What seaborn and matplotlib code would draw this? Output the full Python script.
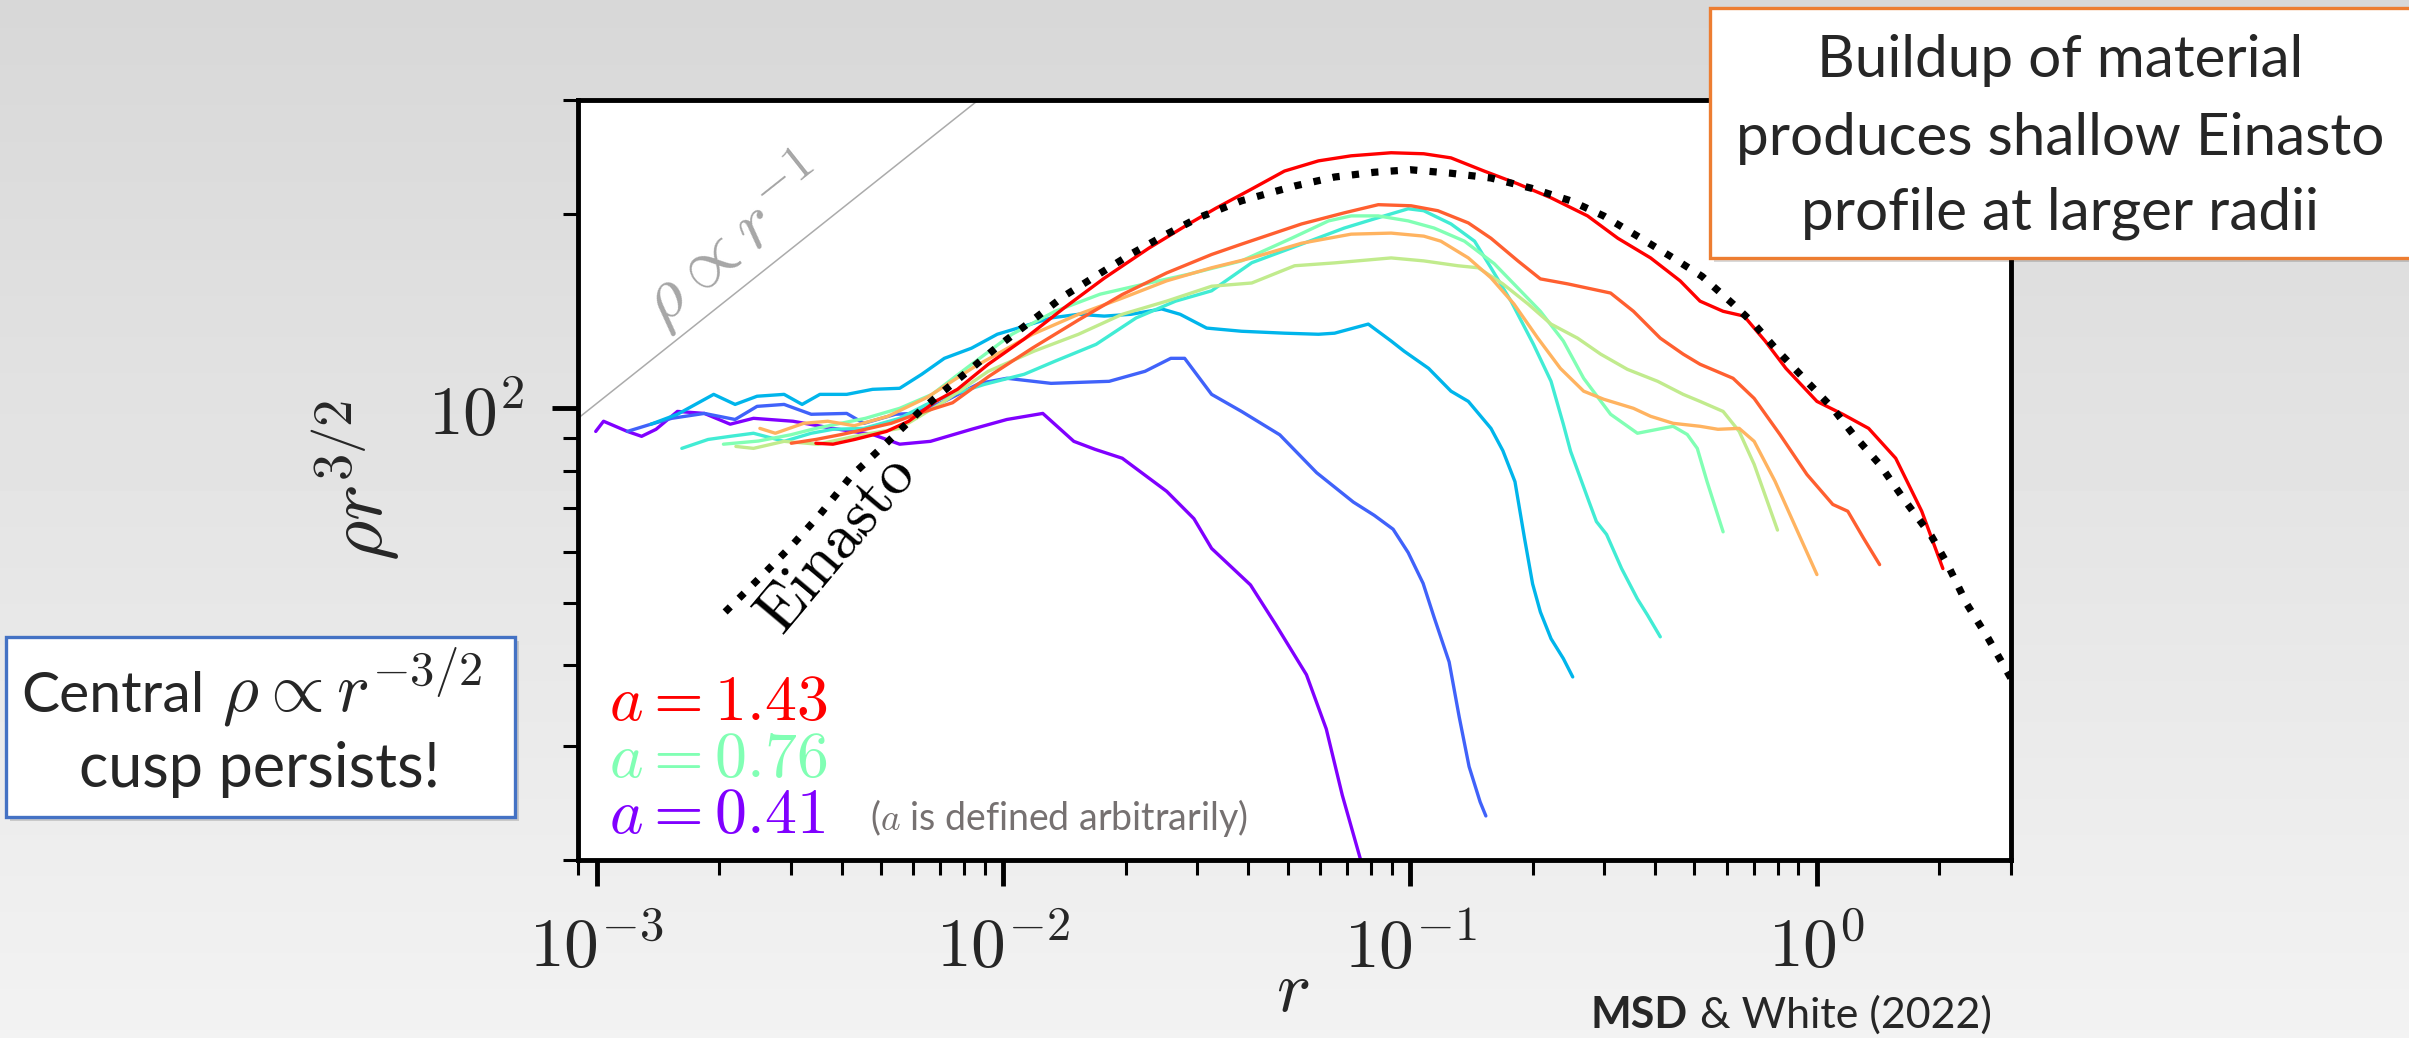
import numpy as np
import pandas as pd
import matplotlib
matplotlib.use("Agg")
import matplotlib.pyplot as plt
from matplotlib.patches import Rectangle
from matplotlib.ticker import NullFormatter
import seaborn as sns

# density profiles rho*r^{3/2}, from a=0.41 (purple) to a=1.43 (red)
r_purple = [0.000995, 0.00104, 0.00119, 0.00129, 0.0014, 0.00158, 0.00184, 0.00213, 0.00243, 0.00304,
            0.00381, 0.00477, 0.00556, 0.00662, 0.00835, 0.0102, 0.0125, 0.0149, 0.0168, 0.0196,
            0.0252, 0.0294, 0.0325, 0.0405, 0.0467, 0.0556, 0.0622, 0.0681, 0.0754]
v_purple = [92.1, 95.5, 92.1, 90.5, 92.8, 98.9, 98.2, 94.5, 96.5, 95.5,
            93.1, 91.1, 88.0, 88.9, 92.8, 96.1, 98.2, 88.9, 86.4, 83.7,
            74.4, 67.5, 60.7, 53.3, 46.3, 38.7, 31.9, 25.2, 20.1]

r_blue = [0.00119, 0.00136, 0.00153, 0.00184, 0.00219, 0.00248, 0.00289, 0.00337, 0.00412, 0.00454,
          0.00543, 0.00601, 0.00716, 0.00873, 0.0102, 0.0131, 0.0182, 0.0223, 0.0258, 0.0279,
          0.0325, 0.0385, 0.0478, 0.0589, 0.0725, 0.0816, 0.0908, 0.0989, 0.1076, 0.1145,
          0.1247, 0.132, 0.1396, 0.1486, 0.1535]
v_blue = [92.1, 94.5, 96.5, 98.2, 96.1, 100.7, 101.4, 97.9, 98.2, 94.8,
          97.9, 98.2, 102.5, 109.3, 111.3, 109.3, 110.1, 114.1, 119.5, 119.5,
          105.1, 98.9, 91.0, 79.5, 71.6, 68.3, 65.0, 59.8, 53.6, 47.5,
          40.5, 33.3, 27.9, 24.6, 23.4]

r_cyan = [0.00136, 0.00158, 0.00194, 0.00219, 0.00248, 0.00289, 0.0032, 0.00354, 0.00412, 0.00477,
          0.00556, 0.0063, 0.00716, 0.00835, 0.00966, 0.01125, 0.0131, 0.0153, 0.0177, 0.0206,
          0.0245, 0.0272, 0.0316, 0.0385, 0.0491, 0.0595, 0.0652, 0.0789, 0.0898, 0.0966,
          0.111, 0.126, 0.139, 0.158, 0.169, 0.181, 0.191, 0.200, 0.209, 0.222, 0.238, 0.251]
v_cyan = [94.5, 97.9, 105.1, 101.4, 104.4, 105.1, 101.4, 105.1, 105.1, 107.0,
          107.4, 112.9, 119.5, 123.9, 130.2, 134.0, 138.0, 139.8, 138.9, 139.8,
          142.5, 139.8, 133.1, 131.6, 130.7, 130.2, 130.7, 135.0, 127.1, 122.6,
          115.3, 106.3, 102.5, 93.1, 86.0, 77.0, 63.0, 53.5, 48.4, 44.0, 41.0, 38.4]

r_turq = [0.00162, 0.00188, 0.00213, 0.00243, 0.00289, 0.00337, 0.00381, 0.00454, 0.00556, 0.00647,
          0.00753, 0.00898, 0.01125, 0.0134, 0.0169, 0.0212, 0.0265, 0.0325, 0.0408, 0.0541,
          0.0689, 0.0816, 0.0989, 0.108, 0.126, 0.144, 0.158, 0.177, 0.201, 0.222,
          0.238, 0.248, 0.275, 0.287, 0.304, 0.331, 0.362, 0.383, 0.412]
v_turq = [86.7, 89.5, 90.5, 91.5, 88.9, 91.5, 92.8, 93.1, 96.5, 101.4,
          105.1, 108.9, 112.9, 118.3, 125.6, 138.0, 146.5, 152.0, 168.0, 179.5,
          190.1, 196.4, 203.6, 202.2, 192.9, 181.4, 165.0, 146.5, 125.6, 110.1,
          94.5, 85.8, 71.8, 66.8, 63.8, 56.5, 50.7, 47.9, 44.3]

r_mint = [0.00205, 0.0025, 0.003, 0.00346, 0.00458, 0.00556, 0.00668, 0.0081, 0.0105, 0.0134,
          0.0173, 0.0223, 0.0286, 0.0385, 0.0511, 0.063, 0.0716, 0.0835, 0.0989, 0.1145,
          0.136, 0.161, 0.184, 0.209, 0.238, 0.267, 0.311, 0.362, 0.406, 0.443,
          0.480, 0.508, 0.537, 0.588]
v_mint = [88.0, 89.0, 91.0, 93.1, 96.5, 100.0, 105.1, 115.3, 130.2, 141.3,
          150.2, 155.8, 161.3, 169.1, 183.3, 195.0, 198.5, 198.5, 195.0, 190.1,
          181.4, 167.4, 153.5, 141.3, 127.1, 111.3, 97.9, 91.5, 92.8, 93.8,
          91.1, 86.7, 77.0, 64.4]

r_lgreen = [0.0022, 0.00243, 0.00289, 0.0035, 0.0045, 0.00556, 0.00716, 0.00918, 0.0119, 0.0153,
            0.0196, 0.0252, 0.0325, 0.0408, 0.052, 0.0652, 0.0898, 0.108, 0.131, 0.147,
            0.169, 0.195, 0.222, 0.258, 0.294, 0.342, 0.406, 0.469, 0.516, 0.588,
            0.644, 0.701, 0.80]
v_lgreen = [87.3, 86.7, 88.9, 88.0, 91.0, 93.1, 102.5, 114.1, 122.6, 130.2,
            139.8, 146.5, 154.5, 156.3, 166.2, 167.9, 170.9, 169.1, 166.2, 165.0,
            155.8, 145.0, 135.0, 128.4, 121.3, 114.9, 110.1, 105.1, 102.5, 98.9,
            92.1, 81.9, 64.8]

r_yorange = [0.00252, 0.00275, 0.00323, 0.0037, 0.0043, 0.0052, 0.0065, 0.0085, 0.0118, 0.0153,
             0.0196, 0.0252, 0.0325, 0.0408, 0.0541, 0.0716, 0.0898, 0.108, 0.119, 0.139,
             0.158, 0.180, 0.206, 0.234, 0.267, 0.299, 0.354, 0.390, 0.443, 0.516,
             0.571, 0.644, 0.701, 0.789, 0.889, 1.0]
v_yorange = [93.1, 91.5, 94.8, 95.5, 94.0, 97.2, 104.0, 116.0, 130.2, 139.8,
             148.1, 157.5, 165.0, 170.9, 180.1, 186.0, 186.7, 184.7, 181.4, 170.9,
             159.2, 145.0, 128.4, 115.3, 106.3, 103.3, 100.0, 97.2, 94.8, 93.8,
             92.8, 93.1, 88.9, 77.1, 65.2, 55.3]

r_orange = [0.00301, 0.00346, 0.0040, 0.00458, 0.0053, 0.0061, 0.0075, 0.0092, 0.0118, 0.0153,
            0.0196, 0.0252, 0.0325, 0.0385, 0.0541, 0.0689, 0.0835, 0.1005, 0.117, 0.139,
            0.158, 0.184, 0.209, 0.244, 0.311, 0.354, 0.412, 0.469, 0.516, 0.622,
            0.701, 0.811, 0.945, 1.094, 1.191, 1.303, 1.426]
v_orange = [88.3, 89.5, 91.1, 92.8, 94.8, 97.9, 102.0, 112.0, 124.0, 137.0,
            150.0, 162.0, 173.0, 179.5, 192.9, 200.7, 206.6, 205.8, 202.2, 193.6,
            183.3, 169.1, 158.6, 155.8, 150.8, 141.3, 128.4, 121.3, 117.0, 111.3,
            103.6, 91.1, 79.0, 71.0, 69.3, 62.9, 57.3]

r_red = [0.00346, 0.00381, 0.00431, 0.00516, 0.00585, 0.00681, 0.00771, 0.00918, 0.01125, 0.0141,
         0.0177, 0.0228, 0.0286, 0.0333, 0.0408, 0.0491, 0.0595, 0.0716, 0.0898, 0.108,
         0.126, 0.152, 0.184, 0.222, 0.273, 0.324, 0.390, 0.461, 0.516, 0.588,
         0.662, 0.746, 0.839, 1.0, 1.158, 1.34, 1.562, 1.81, 2.04]
v_red = [88.3, 88.0, 89.5, 92.1, 95.5, 102.5, 107.0, 117.0, 128.0, 143.0,
         159.0, 177.0, 193.0, 204.0, 218.5, 232.9, 241.5, 245.9, 248.6, 247.7,
         244.1, 232.9, 222.5, 211.7, 198.5, 183.3, 170.9, 157.5, 146.5, 141.3,
         138.9, 127.1, 115.3, 102.5, 97.9, 93.1, 83.7, 69.3, 56.5]

# Einasto fit (dotted)
r_ein = [0.00207, 0.00261, 0.00304, 0.00354, 0.00422, 0.00491, 0.00543, 0.0063, 0.00697, 0.00835,
         0.00966, 0.0119, 0.0141, 0.0169, 0.0206, 0.0252, 0.0301, 0.0385, 0.052, 0.0652,
         0.0816, 0.1, 0.126, 0.158, 0.198, 0.248, 0.299, 0.362, 0.443, 0.522,
         0.622, 0.701, 0.789, 0.945, 1.094, 1.23, 1.426, 1.65, 1.91, 2.09,
         2.34, 2.64, 3.0]
v_ein = [48.4, 55.9, 61.6, 68.5, 78.5, 85.8, 91.1, 99.6, 105.1, 115.3,
         124.5, 137.5, 149.2, 160.3, 173.3, 186.0, 197.1, 209.5, 220.8, 228.0,
         231.9, 234.0, 231.1, 227.2, 219.2, 209.5, 198.5, 184.7, 170.9, 160.0,
         145.0, 135.0, 124.0, 110.0, 100.0, 91.0, 81.9, 71.8, 63.5, 57.5,
         49.7, 44.0, 38.2]

# rho ~ r^-1 guide line
r_ref = [0.0009, 0.01]
v_ref = [96.5, 322.0]

xtick_vals = [1e-3, 1e-2, 1e-1, 1e0]
xtick_labels = [r'$10^{-3}$', r'$10^{-2}$', r'$10^{-1}$', r'$10^{0}$']
ytick_vals = [100]
ytick_labels = [r'$10^{2}$']

a_labels = ['1.43', '0.76', '0.41']
a_cmap_pos = [1.0, 0.5, 0.0]

box_right_lines = ['Buildup of material', 'produces shallow Einasto', 'profile at larger radii']

sns.set_style("ticks")
plt.rcParams['font.family'] = ['Lato', 'DejaVu Sans']
plt.rcParams['mathtext.fontset'] = 'cm'

W, H = 2409, 1038
fig = plt.figure(figsize=(W / 100, H / 100), dpi=100)

# slide background
bg = fig.add_axes([0, 0, 1, 1], zorder=-10)
shade = np.linspace(0.95, 0.845, 256).reshape(-1, 1)
bg.imshow(shade, cmap='gray', vmin=0, vmax=1, aspect='auto', origin='lower', extent=[0, 1, 0, 1])
bg.axis('off')

ax = fig.add_axes([578 / W, 1 - 860 / H, 1433 / W, 760 / H])
ax.set_facecolor('white')
ax.set_xscale('log')
ax.set_yscale('log')

cmap = plt.get_cmap('rainbow')
curves = [(r_purple, v_purple), (r_blue, v_blue), (r_cyan, v_cyan), (r_turq, v_turq),
          (r_mint, v_mint), (r_lgreen, v_lgreen), (r_yorange, v_yorange),
          (r_orange, v_orange), (r_red, v_red)]

sns.lineplot(x=r_ref, y=v_ref, color='#ababab', lw=1.1, ax=ax)
for i, (r, v) in enumerate(curves):
    df = pd.DataFrame({'r': r, 'v': v})
    sns.lineplot(data=df, x='r', y='v', color=cmap(i / 8), lw=2.4,
                 estimator=None, sort=False, ax=ax)
sns.lineplot(x=r_ein, y=v_ein, color='black', lw=5.2, linestyle=(0, (1, 1.7)),
             estimator=None, sort=False, ax=ax)

ax.set_xlim(9e-4, 3)
ax.set_ylim(20, 300)
ax.set_xlabel('')
ax.set_ylabel('')

ax.set_xticks(xtick_vals)
ax.set_xticklabels(xtick_labels)
ax.set_yticks(ytick_vals)
ax.set_yticklabels(ytick_labels)
ax.xaxis.set_minor_formatter(NullFormatter())
ax.yaxis.set_minor_formatter(NullFormatter())
ax.tick_params(which='major', length=19, width=3.5, direction='out', labelsize=50, pad=20, color='black')
ax.tick_params(which='minor', length=10.5, width=2.2, direction='out', color='black')
for s in ax.spines.values():
    s.set_linewidth(3.5)
    s.set_color('black')

# axis labels
fig.text(356 / W, 1 - 480 / H, r'$\rho r^{3/2}$', rotation=90, ha='center', va='center', fontsize=56)
fig.text(1293 / W, 1 - 990 / H, r'$r$', ha='center', va='center', fontsize=52)

# in-axes annotations
ax.text(0.108, 0.815, r'$\rho \propto r^{-1}$', transform=ax.transAxes, rotation=38.4,
        rotation_mode='anchor', ha='center', va='center', fontsize=52, color='#a6a6a6')
ax.text(0.18, 0.415, r'$\mathrm{Einasto}$', transform=ax.transAxes, rotation=50,
        rotation_mode='anchor', ha='center', va='center', fontsize=46, color='black')

for lab, pos, yb in zip(a_labels, a_cmap_pos, [720, 777, 833]):
    ax.text(31 / 1433, (860 - yb) / 760, r'$a = %s$' % lab, transform=ax.transAxes,
            ha='left', va='baseline', fontsize=46, color=cmap(pos))
ax.text((870 - 578) / 1433, (860 - 830) / 760, r'($a$ is defined arbitrarily)', transform=ax.transAxes,
        ha='left', va='baseline', fontsize=27, color='#767171')

# slide text boxes
def text_box(x0, y0, x1, y1, edge):
    shadow = Rectangle((x0 / W + 4 / W, 1 - y1 / H - 4 / H), (x1 - x0) / W, (y1 - y0) / H,
                       transform=fig.transFigure, facecolor=(0, 0, 0, 0.15), edgecolor='none', zorder=5)
    box = Rectangle((x0 / W, 1 - y1 / H), (x1 - x0) / W, (y1 - y0) / H,
                    transform=fig.transFigure, facecolor='white', edgecolor=edge, lw=2.4, zorder=6)
    fig.patches.extend([shadow, box])

text_box(1710, 8, 2415, 258, '#ed7d31')
for line, yb in zip(box_right_lines, [77, 155, 230]):
    fig.text(2060 / W, 1 - yb / H, line, ha='center', va='baseline', fontsize=42, zorder=7)

text_box(6, 637, 515, 817, '#4472c4')
fig.text(205 / W, 1 - 712 / H, 'Central', ha='right', va='baseline', fontsize=41, zorder=7)
fig.text(222 / W, 1 - 712 / H, r'$\rho \propto r^{-3/2}$', ha='left', va='baseline', fontsize=50, zorder=7)
fig.text(260 / W, 1 - 787 / H, 'cusp persists!', ha='center', va='baseline', fontsize=44, zorder=7)

# credit
fig.text(1688 / W, 1 - 1028 / H, 'MSD', ha='right', va='baseline', fontsize=31, fontweight='bold')
fig.text(1700 / W, 1 - 1028 / H, '& White (2022)', ha='left', va='baseline', fontsize=31)

fig.savefig('out.png', dpi=100)
